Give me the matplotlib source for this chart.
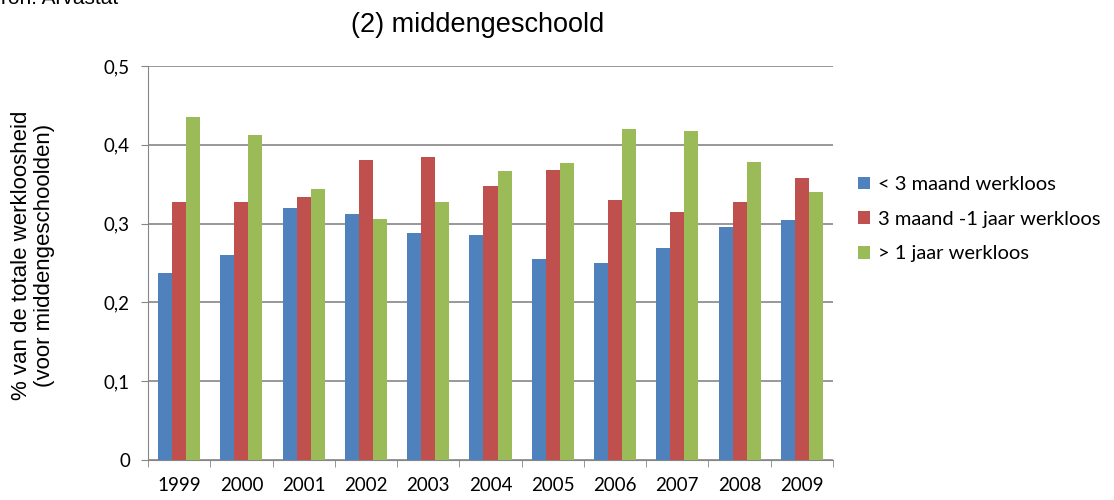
import numpy as np
import matplotlib.pyplot as plt

# data
jaren = ['1999', '2000', '2001', '2002', '2003', '2004', '2005', '2006', '2007', '2008', '2009']
kort = [0.237, 0.260, 0.320, 0.312, 0.288, 0.286, 0.255, 0.250, 0.269, 0.296, 0.305]
middel = [0.327, 0.327, 0.334, 0.381, 0.385, 0.348, 0.368, 0.330, 0.315, 0.327, 0.358]
lang = [0.435, 0.412, 0.344, 0.306, 0.327, 0.367, 0.377, 0.420, 0.418, 0.378, 0.340]
reeksen = ['< 3 maand werkloos', '3 maand -1 jaar werkloos', '> 1 jaar werkloos']
kleuren = ['#4F81BD', '#C0504D', '#9BBB59']

fig = plt.figure(figsize=(11.14, 5), dpi=100)
ax = fig.add_axes([148 / 1114, 40 / 500, 685 / 1114, 394 / 500])

x = np.arange(len(jaren))
w = 0.225
for i, (vals, naam, kl) in enumerate(zip([kort, middel, lang], reeksen, kleuren)):
    ax.bar(x + (i - 1) * w, vals, width=w, color=kl, label=naam, zorder=3)

ax.set_xlim(-0.5, len(jaren) - 0.5)
ax.set_ylim(0, 0.5)
ax.set_yticks(np.arange(0, 0.51, 0.1))
ax.set_yticklabels(['0', '0,1', '0,2', '0,3', '0,4', '0,5'], fontsize=13.5, family='Lato')
ax.set_xticks(x)
ax.set_xticklabels(jaren, fontsize=13.5, family='Lato')
ax.set_xticks(np.arange(-0.5, len(jaren)), minor=True)
ax.tick_params(axis='x', which='major', length=0, pad=12)
ax.tick_params(axis='x', which='minor', length=5, color='#868686')
ax.tick_params(axis='y', length=5, color='#868686', pad=8)

ax.grid(axis='y', color='#868686', linewidth=1.2, zorder=0)
for s in ['top', 'right']:
    ax.spines[s].set_visible(False)
ax.spines['left'].set_color('#868686')
ax.spines['bottom'].set_color('#868686')

# y-as titel, titel en bron
fig.text(33 / 1114, 1 - 255 / 500, '% van de totale werkloosheid\n(voor middengeschoolden)',
         fontsize=16, family='Liberation Sans', rotation=90, ha='center', va='center',
         multialignment='center', linespacing=1.15)
fig.text(478 / 1114, 1 - 25 / 500, '(2) middengeschoold', fontsize=19.5,
         family='Liberation Sans', ha='center', va='center')
fig.text(-0.012, 1.003, 'Bron: Arvastat', fontsize=15, family='Liberation Sans',
         ha='left', va='center')

ax.legend(loc='upper left', bbox_to_anchor=(858 / 1114, 1 - 176 / 500),
          bbox_transform=fig.transFigure, frameon=False, borderpad=0,
          borderaxespad=0, prop={'family': 'Lato', 'size': 14.5},
          handlelength=0.6, handleheight=0.6, handletextpad=0.4,
          labelspacing=0.88)

fig.savefig('out.png', dpi=100)
